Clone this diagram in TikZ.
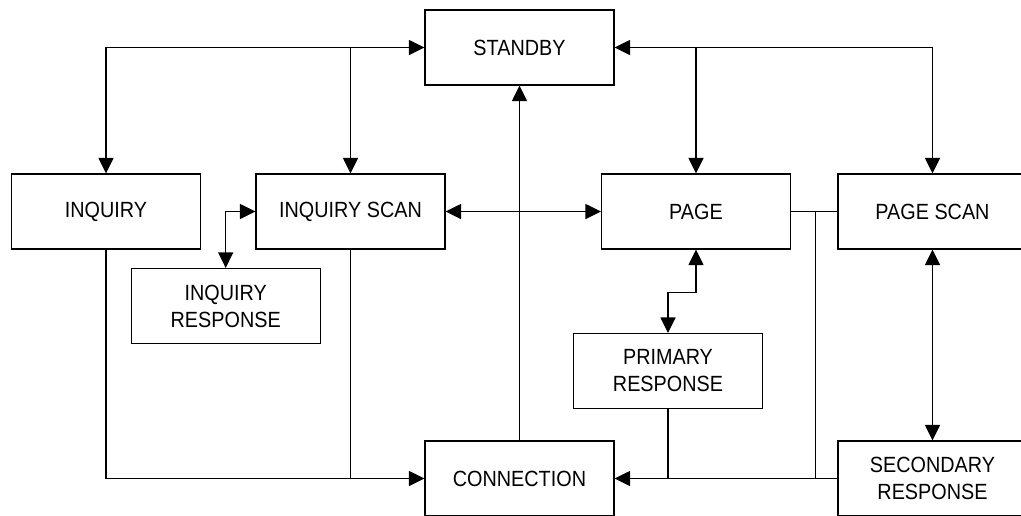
\documentclass[tikz,border=0pt]{standalone}
\usepackage{fontspec}
\setmainfont{Liberation Sans}[FakeStretch=0.9]
\usetikzlibrary{arrows.meta}
\begin{document}
\begin{tikzpicture}[x=1pt,y=-1pt,
  box/.style={draw, line width=1.1pt, minimum width=189pt, minimum height=75pt, inner sep=0pt, align=center,
    font=\fontsize{22pt}{27pt}\selectfont},
  conn/.style={line width=1.1pt},
  >={Triangle[length=15.5pt,width=15pt]}]
\useasboundingbox (0,0) rectangle (1021,515);
\node[box] (stby)  at (519.5,47.5)  {STANDBY};
\node[box] (inq)   at (106,211.5)   {INQUIRY};
\node[box] (inqs)  at (350.5,211.5) {INQUIRY SCAN};
\node[box] (page)  at (696,211.5)   {PAGE};
\node[box] (pscan) at (932.5,211.5) {PAGE SCAN};
\node[box] (inqr)  at (225.7,306)   {INQUIRY\\RESPONSE};
\node[box] (prim)  at (668,371)     {PRIMARY\\RESPONSE};
\node[box] (cnx)   at (519.5,478.5) {CONNECTION};
\node[box] (sec)   at (932.5,478.5) {SECONDARY\\RESPONSE};
\coordinate (j) at (815.7,211.5);
% top bus
\draw[conn,<->] (inq.north) |- (stby.west);
\draw[conn,->] (inqs.north |- stby.west) -- (inqs.north);
\draw[conn,<->] (stby.east) -| (pscan.north);
\draw[conn,->] (page.north |- stby.east) -- (page.north);
% middle
\draw[conn,<->] (inqs.east) -- (page.west);
\draw[conn,->] (cnx.north) -- (stby.south);
\draw[conn,<->] (inqs.west) -| (inqr.north);
\draw[conn,<->] (page.south) -- ++(0,42.5) -| (prim.north);
\draw[conn] (page.east) -- (pscan.west);
\draw[conn,<->] (pscan.south) -- (sec.north);
% bottom bus
\draw[conn,->] (inq.south) |- (cnx.west);
\draw[conn] (inqs.south) -- (inqs.south |- cnx.west);
\draw[conn,->] (sec.west) -- (cnx.east);
\draw[conn] (prim.south) -- (prim.south |- cnx.east);
\draw[conn] (j) -- (j |- cnx.east);
\end{tikzpicture}
\end{document}
